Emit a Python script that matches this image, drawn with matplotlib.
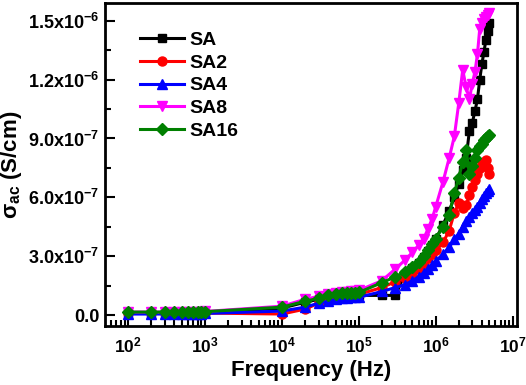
import matplotlib
matplotlib.use('Agg')
import matplotlib.pyplot as plt
import numpy as np
from matplotlib.ticker import FixedLocator, LogLocator, NullFormatter

plt.rcParams['font.family'] = 'Liberation Sans'
plt.rcParams['font.weight'] = 'bold'
plt.rcParams['mathtext.fontset'] = 'custom'
plt.rcParams['mathtext.rm'] = 'Liberation Sans:bold'
plt.rcParams['mathtext.it'] = 'Liberation Sans:bold'
plt.rcParams['mathtext.bf'] = 'Liberation Sans:bold'

# Frequency (Hz)
freq = [100, 200, 300, 400, 500, 600, 700, 800, 900, 1000,
        1e4, 2e4, 3e4, 4e4, 5e4, 6e4, 7e4, 8e4, 9e4, 1e5,
        2e5, 3e5, 4e5, 5e5, 6e5, 7e5, 8e5, 9e5, 1e6,
        1.25e6, 1.5e6, 1.75e6, 2e6, 2.25e6, 2.5e6, 2.75e6, 3e6,
        3.25e6, 3.5e6, 3.75e6, 4e6, 4.25e6, 4.5e6, 4.75e6, 5e6]

# sigma_ac in units of 1e-7 S/cm
sa = [0.10, 0.10, 0.10, 0.10, 0.10, 0.10, 0.10, 0.10, 0.10, 0.12,
      0.35, 0.65, 0.80, 0.90, 0.95, 1.00, 1.00, 1.00, 1.00, 1.00,
      1.00, 1.00, 2.10, 2.40, 2.65, 2.95, 3.25, 3.55, 3.85,
      4.60, 5.30, 6.00, 6.70, 7.40, 8.00, 9.40, 9.80,
      10.4, 11.0, 12.0, 12.8, 13.4, 14.0, 14.5, 14.9]
sa2 = [0.08, 0.08, 0.08, 0.08, 0.08, 0.08, 0.08, 0.08, 0.08, 0.10,
       0.05, 0.30, 0.60, 0.75, 0.85, 0.90, 0.95, 0.95, 1.00, 1.05,
       1.40, 1.70, 1.90, 2.10, 2.35, 2.60, 2.90, 3.10, 3.30,
       3.70, 4.30, 5.20, 5.70, 5.45, 5.60, 6.10, 6.50,
       6.90, 7.20, 7.50, 7.70, 7.80, 7.90, 7.50, 7.20]
sa4 = [0.05, 0.05, 0.05, 0.05, 0.05, 0.05, 0.05, 0.05, 0.05, 0.08,
       0.20, 0.40, 0.60, 0.70, 0.80, 0.85, 0.85, 0.90, 0.90, 0.90,
       1.20, 1.40, 1.55, 1.75, 1.95, 2.15, 2.35, 2.55, 2.75,
       3.10, 3.45, 3.85, 4.15, 4.50, 4.80, 5.00, 5.20,
       5.35, 5.50, 5.70, 5.90, 6.05, 6.20, 6.30, 6.40]
sa8 = [0.15, 0.15, 0.15, 0.15, 0.15, 0.15, 0.15, 0.15, 0.15, 0.18,
       0.45, 0.80, 0.95, 1.05, 1.10, 1.15, 1.15, 1.20, 1.20, 1.25,
       1.75, 2.35, 2.80, 3.20, 3.55, 3.90, 4.40, 4.90, 5.50,
       6.80, 8.00, 9.10, 10.8, 12.5, 11.6, 11.0, 11.8,
       12.4, 13.3, 14.6, 14.9, 15.1, 15.2, 15.3, 15.4]
sa16 = [0.15, 0.15, 0.15, 0.15, 0.15, 0.15, 0.15, 0.15, 0.15, 0.17,
        0.40, 0.70, 0.85, 1.00, 1.05, 1.10, 1.12, 1.12, 1.12, 1.15,
        1.65, 1.95, 2.20, 2.45, 2.70, 3.00, 3.30, 3.60, 3.90,
        4.50, 5.10, 6.20, 7.00, 7.80, 8.40, 7.20, 7.60,
        8.00, 8.40, 8.60, 8.70, 8.90, 9.00, 9.10, 9.20]

series = [('SA', sa, 'black', 's', 6),
          ('SA2', sa2, 'red', 'o', 6.5),
          ('SA4', sa4, 'blue', '^', 7),
          ('SA8', sa8, '#FF00FF', 'v', 7),
          ('SA16', sa16, 'green', 'D', 6.5)]

fig = plt.figure(figsize=(5.26, 3.85), dpi=100)
ax = fig.add_axes([105 / 526, 1 - 326 / 385, 411.5 / 526, 323.3 / 385])

for name, vals, col, mk, ms in series:
    ax.plot(freq, np.array(vals) * 1e-7, color=col, marker=mk, markersize=ms,
            linewidth=2.2, label=name)

ax.set_xscale('log')
ax.set_xlim(10 ** 1.70, 10 ** 7.052)
ax.set_ylim(-0.56e-7, 1.592e-6)

ax.xaxis.set_major_locator(FixedLocator([1e2, 1e3, 1e4, 1e5, 1e6, 1e7]))
ax.xaxis.set_minor_locator(LogLocator(base=10, subs=np.arange(2, 10)))
ax.xaxis.set_minor_formatter(NullFormatter())
ax.set_xticklabels(['10$^{2}$', '10$^{3}$', '10$^{4}$', '10$^{5}$', '10$^{6}$', '10$^{7}$'])

yt = [0, 3e-7, 6e-7, 9e-7, 1.2e-6, 1.5e-6]
ax.yaxis.set_major_locator(FixedLocator(yt))
ax.yaxis.set_minor_locator(FixedLocator([1.5e-7, 4.5e-7, 7.5e-7, 1.05e-6, 1.35e-6]))
ax.set_yticklabels(['0.0', '3.0x10$^{-7}$', '6.0x10$^{-7}$', '9.0x10$^{-7}$',
                    '1.2x10$^{-6}$', '1.5x10$^{-6}$'])

ax.tick_params(which='both', direction='in', top=False, right=False, width=1.5)
ax.tick_params(axis='y', labelsize=13)
ax.tick_params(axis='x', labelsize=12.5)
ax.tick_params(which='major', length=7)
ax.tick_params(axis='y', which='major', pad=4)
ax.tick_params(axis='x', which='major', pad=7)
ax.tick_params(which='minor', length=4)
for s in ax.spines.values():
    s.set_linewidth(2)

ax.set_xlabel('Frequency (Hz)', fontsize=16, fontweight='bold', labelpad=3)
ax.set_ylabel('σ$_{ac}$ (S/cm)', fontsize=16, fontweight='bold', labelpad=3)

ax.legend(loc='upper left', frameon=False, fontsize=14, handlelength=2.3,
          labelspacing=0.26, handletextpad=0.25, borderaxespad=0,
          bbox_to_anchor=(0.065, 0.935))

fig.savefig('out.png', dpi=100)
